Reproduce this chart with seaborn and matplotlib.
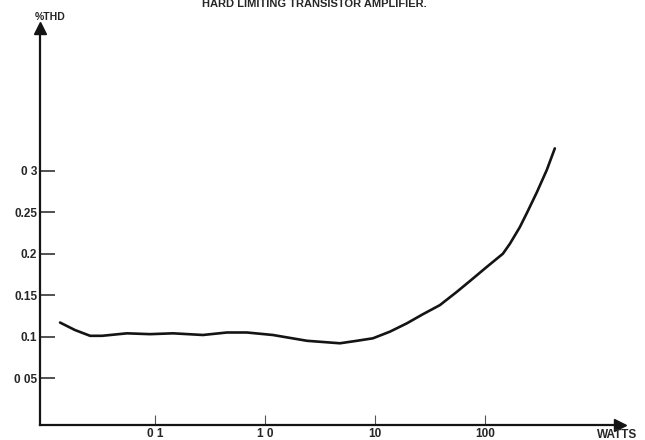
import numpy             as np
import pandas            as pd
import matplotlib.pyplot as plt
import seaborn           as sns

sns.set_style('white')
plt.rcParams['font.family'] = ['Liberation Sans', 'DejaVu Sans']

# Values (power in watts, distortion in %THD)
watts = [0.0137, 0.0187, 0.0257, 0.033, 0.0556, 0.090, 0.146, 0.273, 0.452, 0.686,
         1.18, 2.41, 4.81, 6.86, 9.6, 13.7, 19.5, 27.3, 39, 55.6,
         73.1, 104, 146, 169, 208, 241, 297, 366, 433]
thd   = [0.117, 0.108, 0.101, 0.101, 0.104, 0.103, 0.104, 0.102, 0.105, 0.105,
         0.102, 0.095, 0.092, 0.095, 0.098, 0.106, 0.116, 0.127, 0.138, 0.154,
         0.167, 0.184, 0.200, 0.212, 0.232, 0.249, 0.274, 0.301, 0.327]

x_ticks  = [0.1, 1, 10, 100]
x_labels = ['0 1', '1 0', '10', '100']
y_ticks  = [0.05, 0.1, 0.15, 0.2, 0.25, 0.3]
y_labels = ['0 05', '0.1', '0.15', '0.2', '0.25', '0 3']

df = pd.DataFrame({'watts': watts, 'thd': thd})

fig = plt.figure(figsize = (6.45, 4.4), dpi = 100)
ax  = fig.add_axes([0.062, 0.034, 0.899, 0.902])

sns.lineplot(data = df, x = 'watts', y = 'thd', ax = ax,
             color = '#141414', linewidth = 1.9)

ax.set_xscale('log')
ax.set_xlim(0.009, 1690)
ax.set_ylim(-0.0066, 0.472)

ax.set_xticks(x_ticks)
ax.set_xticklabels(x_labels)
ax.set_yticks(y_ticks)
ax.set_yticklabels(y_labels)
ax.minorticks_off()
ax.set_xlabel(None)
ax.set_ylabel(None)

ax.tick_params(axis = 'y', direction = 'in', length = 11, width = 1.1, color = '#222222',
               left = True, labelsize = 8.5, pad = 2)
ax.tick_params(axis = 'x', direction = 'in', length = 7, width = 0.8, color = '#555555',
               bottom = True, labelsize = 8.5, pad = 2)
for lbl in ax.get_xticklabels() + ax.get_yticklabels():
    lbl.set_fontweight('bold')

sns.despine(ax = ax, top = True, right = True)
for side in ['left', 'bottom']:
    ax.spines[side].set_linewidth(1.6)
    ax.spines[side].set_color('#141414')

# Arrow heads on the axes
ax.plot(1, 0, marker = '>', markersize = 8, color = '#141414',
        transform = ax.transAxes, clip_on = False)
ax.plot(0, 1, marker = '^', markersize = 8, color = '#141414',
        transform = ax.transAxes, clip_on = False)

fig.text(0.054, 0.962, '%THD', fontsize = 7.5, fontweight = 'bold', ha = 'left', va = 'center')
fig.text(0.925, 0.012, 'WATTS', fontsize = 8.5, fontweight = 'bold', ha = 'left', va = 'center')
fig.text(0.487, 0.99, 'HARD LIMITING TRANSISTOR AMPLIFIER.', fontsize = 8,
         fontweight = 'bold', ha = 'center', va = 'center')

plt.savefig('out.png', dpi = 100)
